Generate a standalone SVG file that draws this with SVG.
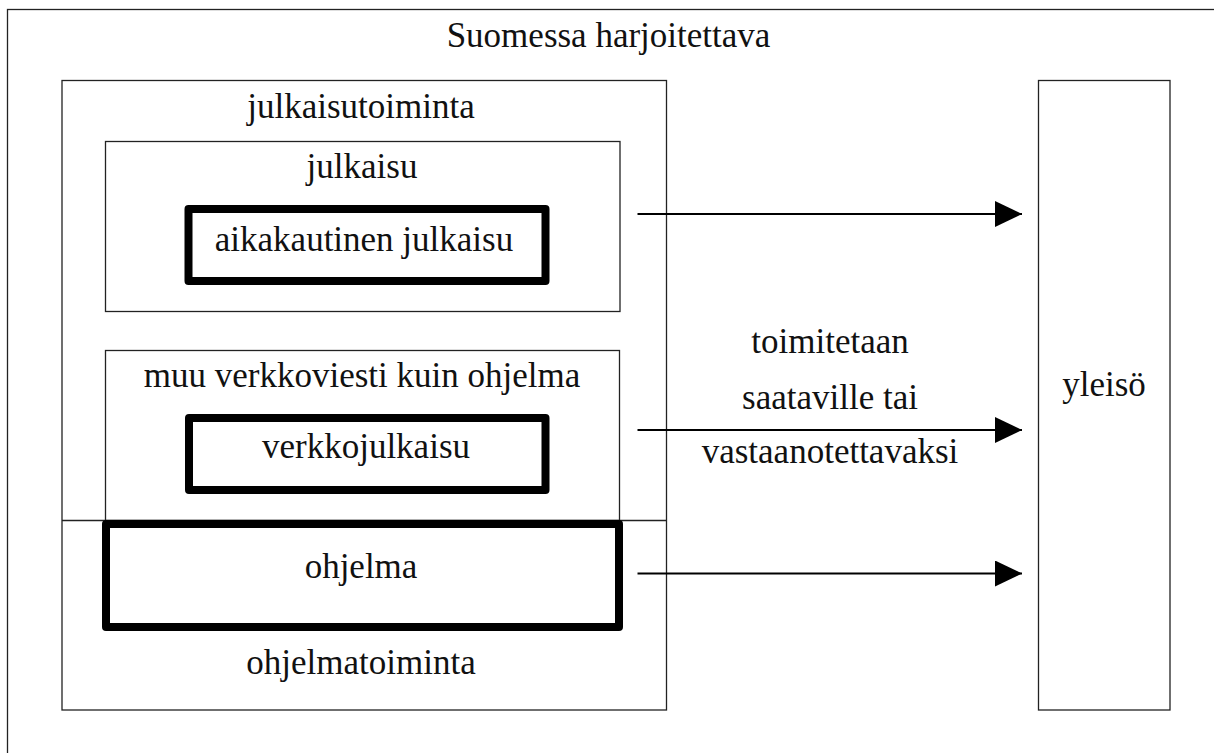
<svg xmlns="http://www.w3.org/2000/svg" width="1214" height="753" viewBox="0 0 1214 753">
<defs>
<style>
text{font-family:"Liberation Serif","DejaVu Serif",serif;font-size:35px;fill:#111;text-anchor:middle}
.thin{fill:none;stroke:#222;stroke-width:1.3}
.thick{fill:none;stroke:#000;stroke-width:8;stroke-linejoin:round}
.conn{stroke:#000;stroke-width:2;fill:none}
</style>
<marker id="arr" markerUnits="userSpaceOnUse" markerWidth="28" markerHeight="28" refX="27" refY="13" orient="auto">
<path d="M0,0 L27,13 L0,26 Z" fill="#000"/>
</marker>
</defs>
<rect width="1214" height="753" fill="#fff"/>
<g id="suomessa">
<rect class="thin" x="7.5" y="9.5" width="1300" height="900"/>
<text x="608.5" y="47">Suomessa harjoitettava</text>
</g>
<g id="julkaisutoiminta">
<rect class="thin" x="62" y="80.5" width="604.5" height="629.5"/>
<text x="361" y="118">julkaisutoiminta</text>
</g>
<g id="julkaisu">
<rect class="thin" x="105.5" y="141.5" width="514.5" height="170"/>
<text x="362" y="178">julkaisu</text>
</g>
<g id="aikakautinen">
<rect class="thick" x="188.5" y="209" width="357" height="72"/>
<text x="364" y="251">aikakautinen julkaisu</text>
</g>
<g id="muu">
<rect class="thin" x="105.5" y="350.5" width="514" height="170"/>
<text x="362" y="387">muu verkkoviesti kuin ohjelma</text>
</g>
<g id="verkkojulkaisu">
<rect class="thick" x="189" y="418" width="356.5" height="72"/>
<text x="366" y="458">verkkojulkaisu</text>
</g>
<g id="ohjelmatoiminta">
<line class="thin" x1="62" y1="520.5" x2="666.5" y2="520.5"/>
<text x="361" y="674">ohjelmatoiminta</text>
</g>
<g id="ohjelma">
<rect class="thick" x="106" y="524" width="513" height="103"/>
<text x="361" y="578">ohjelma</text>
</g>
<g id="yleiso">
<rect class="thin" x="1038.5" y="80.5" width="131.5" height="629.5"/>
<text x="1104" y="396">yleisö</text>
</g>
<g id="connectors">
<line class="conn" x1="637.5" y1="214" x2="1022" y2="214" marker-end="url(#arr)"/>
<line class="conn" x1="637.5" y1="430" x2="1022" y2="430" marker-end="url(#arr)"/>
<line class="conn" x1="637.5" y1="573.5" x2="1022" y2="573.5" marker-end="url(#arr)"/>
<text x="830" y="353">toimitetaan</text>
<text x="830" y="409">saataville tai</text>
<text x="830" y="463">vastaanotettavaksi</text>
</g>
</svg>
